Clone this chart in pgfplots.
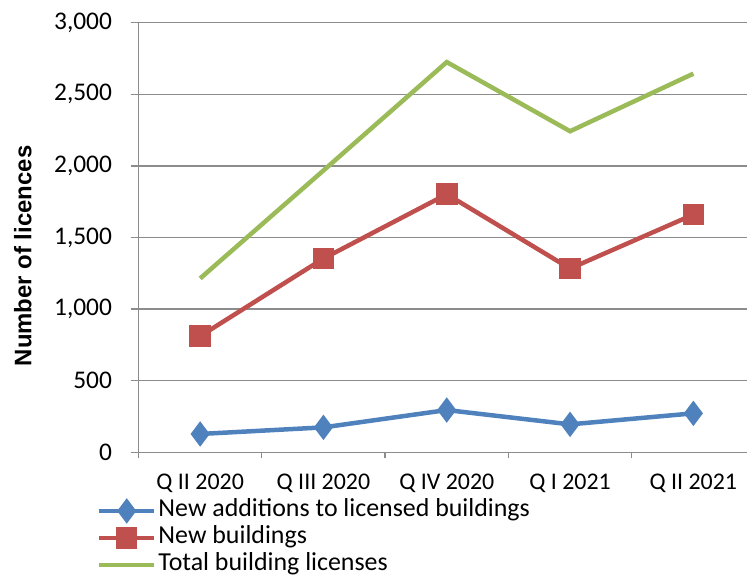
\documentclass[border=0pt]{standalone}
\usepackage{pgfplots}
\pgfplotsset{compat=1.18}
\usepackage{fontspec}
\setmainfont{Carlito}
\newfontfamily\labelfont{Liberation Sans}
\definecolor{cblue}{HTML}{4F81BD}
\definecolor{cred}{HTML}{C0504D}
\definecolor{cgreen}{HTML}{9BBB59}
\definecolor{cgrid}{HTML}{8C8C8C}
\begin{document}
\begin{tikzpicture}[x=1bp,y=1bp]
\useasboundingbox (0,0) rectangle (747,577);
\clip (0,0) rectangle (747,577);
\begin{axis}[
  at={(138.5bp,124.7bp)}, anchor=origin,
  scale only axis, width=608.5bp, height=429.6bp,
  xmin=0, xmax=4.935, ymin=0, ymax=3000,
  axis x line*=bottom, axis y line*=left,
  axis line style={cgrid, line width=1.3bp, -},
  xtick={0.5,1.5,2.5,3.5,4.5},
  xticklabels={Q II 2020, Q III 2020, Q IV 2020, Q I 2021, Q II 2021},
  minor xtick={0,1,2,3,4},
  major x tick style={draw=none},
  minor x tick style={cgrid, line width=1.3bp},
  minor tick length=6bp,
  ytick={0,500,...,3000},
  major tick length=8bp,
  y tick style={cgrid, line width=1.3bp},
  tick align=outside,
  ymajorgrids, grid style={cgrid, line width=1.3bp},
  yticklabel style={/pgf/number format/1000 sep={,}, xshift=-15bp, font=\fontsize{25.5}{30}\selectfont},
  xticklabel style={yshift=-10bp, font=\fontsize{24}{28}\selectfont},
  /pgf/number format/assume math mode=true,
  tick label style={text=black},
  ylabel={Number of licences},
  ylabel style={at={(axis description cs:-0.19,0.457)}, anchor=center, font=\labelfont\bfseries\fontsize{24}{28}\selectfont},
  legend style={draw=none, fill=none, inner sep=0pt, outer sep=0pt,
    at={(axis description cs:-0.0682,-0.111)}, anchor=north west,
    font=\fontsize{26}{30}\selectfont,
    nodes={inner xsep=2bp, inner ysep=0bp, text height=17bp, text depth=5bp},
    row sep=5bp, legend cell align=left},
  legend image code/.code={\draw[mark repeat=2,mark phase=2,#1] plot coordinates {(0bp,0bp) (27.5bp,0bp) (55bp,0bp)};},
  clip=false,
]
\addplot[cblue, line width=4.5bp, mark=diamond*, mark size=9bp, mark options={solid}] coordinates {(0.5,128) (1.5,174) (2.5,295) (3.5,195) (4.5,272)};
\addlegendentry{New additions to licensed buildings}
\addplot[cred, line width=4.5bp, mark=square*, mark size=8.5bp, mark options={solid}] coordinates {(0.5,811) (1.5,1353) (2.5,1802) (3.5,1283) (4.5,1660)};
\addlegendentry{New buildings}
\addplot[cgreen, line width=4.5bp, no marks] coordinates {(0.5,1214) (1.5,1968) (2.5,2725) (3.5,2242) (4.5,2644)};
\addlegendentry{Total building licenses}
\end{axis}
\end{tikzpicture}
\end{document}
